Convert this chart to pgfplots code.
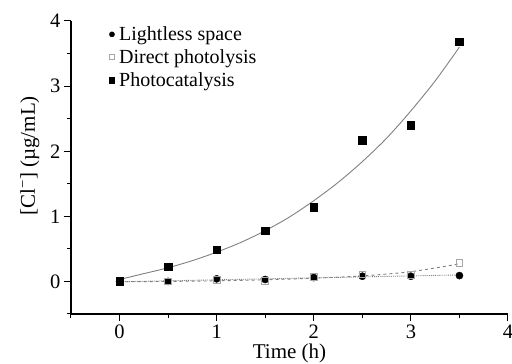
\documentclass[border=0pt]{standalone}
\usepackage{pgfplots}
\pgfplotsset{compat=1.18}
\usepackage{fontspec}
\setmainfont{Liberation Serif}
\begin{document}
\begin{tikzpicture}
\useasboundingbox (-71pt,-50pt) rectangle (441pt,314pt);
\begin{axis}[
  scale only axis,
  width=437pt, height=293pt,
  xmin=-0.5, xmax=4, ymin=-0.5, ymax=4,
  axis lines=left,
  axis line style={line width=1.2pt, -},
  xtick={0,1,2,3,4}, ytick={0,1,2,3,4},
  minor xtick={-0.5,0.5,1.5,2.5,3.5},
  minor ytick={-0.5,0.5,1.5,2.5,3.5},
  tick align=outside,
  major tick length=7pt, minor tick length=4pt,
  tick style={line width=1pt, black},
  /pgf/number format/assume math mode=true,
  tick label style={font=\fontsize{20.5}{22}\selectfont},
  xlabel={Time (h)},
  ylabel={[Cl\textsuperscript{−}] (µg/mL)},
  label style={font=\fontsize{21}{22}\selectfont},
  xlabel style={at={(axis description cs:0.5,-0.135)}, anchor=center},
  ylabel style={at={(axis description cs:-0.094,0.54)}, anchor=center},
  legend style={draw=none, fill=none, at={(axis description cs:0.085,0.983)}, anchor=north west,
    font=\fontsize{20}{21}\selectfont, row sep=6.5pt, inner sep=0pt,
    nodes={inner sep=0.5pt}},
  legend cell align=left,
  legend image code/.code={\path (0,0) (0.35cm,0); \draw[#1, mark size=2.6pt] plot coordinates {(0.12cm,0cm)};},
  clip=false,
]
% fit curves
\addplot[forget plot, gray, line width=0.9pt, smooth] coordinates {
(0,0.03) (0.25,0.12) (0.5,0.21) (0.75,0.32) (1.0,0.45) (1.25,0.60) (1.5,0.78) (1.75,0.99) (2.0,1.24) (2.25,1.52) (2.5,1.84) (2.75,2.20) (3.0,2.62) (3.25,3.08) (3.5,3.60)};
\addplot[forget plot, gray, line width=0.9pt, dashed, smooth] coordinates {
(0,-0.005) (0.5,0.0) (1,0.01) (1.5,0.025) (2,0.05) (2.5,0.085) (3,0.15) (3.5,0.27)};
\addplot[forget plot, gray, line width=0.9pt, densely dotted] coordinates {
(0,-0.005) (3.5,0.10)};
% data
\addplot[only marks, mark=*, mark size=3.6pt, black] coordinates {
(0,0) (0.5,0.0) (1,0.04) (1.5,0.03) (2,0.06) (2.5,0.08) (3,0.08) (3.5,0.09)};
\addlegendentry{Lightless space}
\addplot[only marks, mark=square, mark size=3.3pt, mark options={draw=gray!70, fill=white, line width=0.9pt}] coordinates {
(0,0) (0.5,0.0) (1,0.02) (1.5,0.01) (2,0.07) (2.5,0.11) (3,0.10) (3.5,0.28)};
\addlegendentry{Direct photolysis}
\addplot[only marks, mark=square*, mark size=3.8pt, black] coordinates {
(0,0) (0.5,0.227) (1,0.49) (1.5,0.78) (2,1.14) (2.5,2.17) (3,2.40) (3.5,3.68)};
\addlegendentry{Photocatalysis}
\end{axis}
\end{tikzpicture}
\end{document}
